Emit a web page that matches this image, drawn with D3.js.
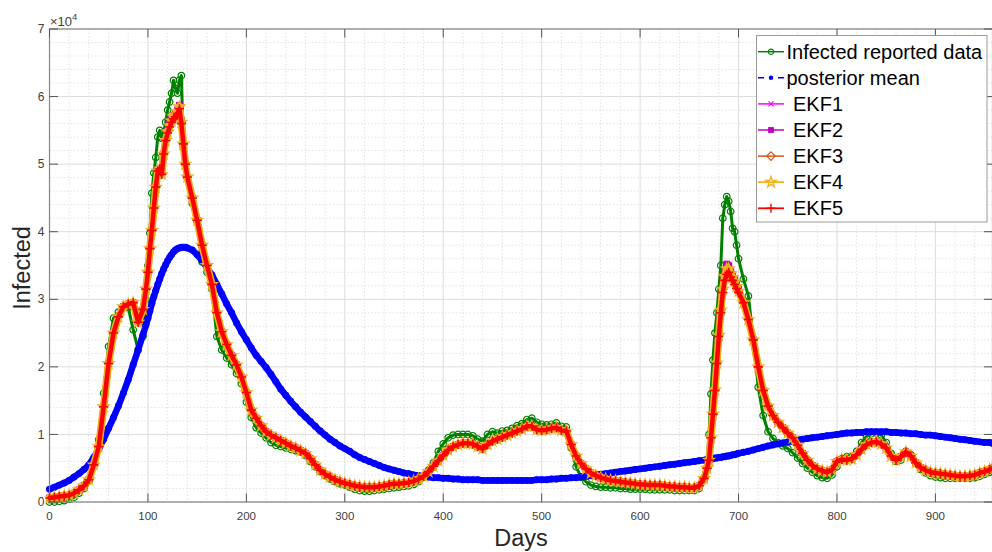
<!DOCTYPE html>
<html><head><meta charset="utf-8">
<script src="https://cdn.jsdelivr.net/npm/d3@7"></script>
<style>
body{margin:0;background:#fff;}
svg{display:block;font-family:"Liberation Sans",Arial,Helvetica,sans-serif;}
</style></head><body>
<svg id="chart" width="992" height="552"></svg>
<script>
// sample days (x values)
const days = [...d3.range(0,96,5), ...d3.range(98,141,2), ...d3.range(145,666,5), ...d3.range(668,701,2), ...d3.range(705,956,5), 958];

// values in units of 10^4
const infectedData = [
0.00,0.00,0.01,0.02,0.04,0.07,0.13,0.20,0.31,0.55,0.92,1.61,2.30,2.72,2.81,2.88,2.88,2.55,2.25,2.45,
3.00,3.50,3.98,4.57,4.87,5.10,5.40,5.50,5.38,5.47,5.62,5.80,5.92,6.05,6.24,6.12,6.05,6.24,6.31,5.25,5.00,4.80,
4.42,4.15,3.55,3.40,3.15,2.45,2.25,2.13,2.03,1.90,
1.75,1.48,1.25,1.10,1.02,0.95,0.88,0.84,0.82,0.80,
0.78,0.76,0.74,0.69,0.60,0.52,0.45,0.39,0.34,0.30,
0.27,0.25,0.22,0.19,0.17,0.16,0.16,0.17,0.18,0.19,
0.20,0.21,0.22,0.23,0.24,0.26,0.30,0.37,0.47,0.58,
0.75,0.86,0.95,0.99,1.00,1.00,1.00,0.98,0.93,0.90,
1.00,1.04,1.02,1.05,1.06,1.09,1.13,1.16,1.22,1.24,
1.18,1.15,1.14,1.15,1.17,1.12,1.11,0.80,0.52,0.37,
0.30,0.25,0.23,0.22,0.22,0.21,0.21,0.20,0.20,0.19,
0.19,0.19,0.19,0.18,0.18,0.18,0.18,0.18,0.17,0.17,
0.17,0.17,0.17,0.20,0.35,
0.60,1.00,1.60,2.10,2.50,2.80,3.15,3.50,4.20,4.40,4.52,4.45,4.30,4.05,4.00,3.80,3.60,
3.30,3.05,2.40,1.70,1.28,1.04,0.94,0.88,0.83,0.79,
0.73,0.65,0.57,0.50,0.44,0.39,0.36,0.35,0.40,0.52,
0.64,0.67,0.67,0.75,0.88,0.97,1.01,1.02,0.99,0.88,
0.72,0.60,0.62,0.75,0.70,0.58,0.48,0.43,0.39,0.37,
0.36,0.35,0.35,0.35,0.35,0.35,0.35,0.36,0.38,0.41,
0.44,0.46];

const posteriorMean = [
0.19,0.22,0.25,0.28,0.32,0.37,0.42,0.48,0.55,0.66,0.78,0.93,1.09,1.25,1.42,1.61,1.81,2.03,2.25,2.48,
2.62,2.72,2.83,2.94,3.04,3.13,3.22,3.30,3.38,3.45,3.51,3.57,3.62,3.66,3.70,3.73,3.75,3.76,3.77,3.77,3.77,3.76,
3.73,3.66,3.57,3.47,3.36,3.22,3.08,2.93,2.80,2.65,
2.52,2.40,2.28,2.17,2.08,1.99,1.89,1.78,1.67,1.58,
1.49,1.41,1.33,1.26,1.19,1.12,1.05,0.99,0.93,0.88,
0.83,0.79,0.75,0.70,0.66,0.63,0.60,0.57,0.54,0.51,
0.49,0.47,0.45,0.43,0.42,0.40,0.39,0.38,0.37,0.36,
0.36,0.35,0.35,0.34,0.34,0.33,0.33,0.33,0.33,0.32,
0.32,0.32,0.32,0.32,0.32,0.32,0.32,0.32,0.32,0.32,
0.33,0.33,0.33,0.34,0.34,0.35,0.35,0.36,0.36,0.37,
0.38,0.39,0.40,0.41,0.42,0.43,0.44,0.45,0.46,0.47,
0.48,0.49,0.50,0.51,0.52,0.53,0.54,0.55,0.56,0.57,
0.58,0.59,0.60,0.61,0.62,
0.63,0.63,0.64,0.64,0.65,0.65,0.66,0.66,0.67,0.67,0.68,0.68,0.69,0.70,0.70,0.71,0.72,
0.735,0.75,0.77,0.79,0.81,0.83,0.845,0.86,0.875,0.89,
0.90,0.92,0.93,0.94,0.95,0.96,0.97,0.98,0.99,1.00,
1.01,1.02,1.02,1.03,1.03,1.04,1.04,1.04,1.04,1.04,
1.03,1.03,1.02,1.02,1.01,1.01,1.00,0.99,0.99,0.98,
0.97,0.96,0.95,0.94,0.93,0.92,0.91,0.90,0.89,0.88,
0.88,0.87];

// EKF estimates (the five filters coincide except near the two peaks)
const ekfEarly = [0.06,0.07,0.08,0.09,0.10,0.13,0.18,0.24,0.33,0.55,0.82,1.41,2.05,2.50,2.74,2.89,2.93,2.95,2.66,2.85];
const ekf5Peak1 = [3.15,3.40,3.75,4.02,4.35,4.66,4.90,4.93,4.85,5.15,5.35,5.46,5.55,5.62,5.67,5.70,5.75,5.82,5.60,5.30,5.00,4.81];
const ekf12Peak1 = [3.15,3.40,3.75,4.02,4.35,4.66,4.90,4.93,4.85,5.15,5.35,5.50,5.60,5.67,5.72,5.76,5.80,5.87,5.65,5.30,5.00,4.81];
const ekf34Peak1 = [3.15,3.40,3.75,4.02,4.35,4.66,4.90,4.93,4.85,5.15,5.35,5.48,5.57,5.64,5.70,5.73,5.78,5.85,5.62,5.30,5.00,4.81];
const ekfMiddle = [
4.50,4.17,3.80,3.50,3.22,2.80,2.52,2.33,2.17,2.03,
1.85,1.62,1.36,1.24,1.13,1.04,0.99,0.95,0.91,0.87,
0.83,0.80,0.76,0.72,0.64,0.55,0.47,0.41,0.37,0.33,
0.30,0.28,0.26,0.24,0.23,0.22,0.22,0.22,0.23,0.24,
0.26,0.27,0.27,0.28,0.29,0.31,0.34,0.38,0.45,0.53,
0.61,0.69,0.77,0.82,0.85,0.87,0.87,0.86,0.82,0.79,
0.85,0.90,0.93,0.96,0.99,1.02,1.05,1.08,1.12,1.12,
1.07,1.06,1.07,1.09,1.10,1.06,1.05,0.85,0.68,0.57,
0.49,0.43,0.39,0.36,0.34,0.32,0.31,0.30,0.29,0.28,
0.27,0.26,0.26,0.25,0.25,0.25,0.24,0.23,0.23,0.22,
0.22,0.21,0.21,0.24,0.35];
const ekf5Peak2 = [0.50,0.62,0.95,1.30,1.65,2.05,2.45,2.80,3.10,3.28,3.37,3.40,3.33,3.28,3.22,3.16,3.10];
const ekf12Peak2 = [0.50,0.62,0.95,1.30,1.67,2.08,2.50,2.88,3.20,3.40,3.52,3.50,3.43,3.36,3.30,3.22,3.15];
const ekf34Peak2 = [0.50,0.62,0.95,1.30,1.66,2.06,2.47,2.84,3.15,3.34,3.45,3.45,3.38,3.32,3.26,3.19,3.12];
const ekfLate = [
2.95,2.70,2.40,2.00,1.65,1.42,1.28,1.18,1.10,1.02,
0.95,0.84,0.72,0.62,0.54,0.49,0.46,0.44,0.48,0.60,
0.63,0.62,0.64,0.70,0.78,0.85,0.88,0.89,0.86,0.80,
0.68,0.62,0.67,0.74,0.68,0.58,0.51,0.47,0.44,0.43,
0.42,0.41,0.40,0.39,0.38,0.38,0.39,0.40,0.43,0.45,
0.48,0.50];

const ekf1 = [...ekfEarly, ...ekf12Peak1, ...ekfMiddle, ...ekf12Peak2, ...ekfLate];
const ekf2 = [...ekfEarly, ...ekf12Peak1, ...ekfMiddle, ...ekf12Peak2, ...ekfLate];
const ekf3 = [...ekfEarly, ...ekf34Peak1, ...ekfMiddle, ...ekf34Peak2, ...ekfLate];
const ekf4 = [...ekfEarly, ...ekf34Peak1, ...ekfMiddle, ...ekf34Peak2, ...ekfLate];
const ekf5 = [...ekfEarly, ...ekf5Peak1, ...ekfMiddle, ...ekf5Peak2, ...ekfLate];

const xTicks = [0,100,200,300,400,500,600,700,800,900];
const yTicks = [0,1,2,3,4,5,6,7];
const yTickLabels = ["0","1","2","3","4","5","6","7"];
const legendLabels = ["Infected reported data","posterior mean","EKF1","EKF2","EKF3","EKF4","EKF5"];

// ---------- drawing ----------
const svg = d3.select("#chart");
const L = 49.5, R = 992.5, T = 29, B = 502;
const x = d3.scaleLinear().domain([0,958]).range([L,R]);
const y = d3.scaleLinear().domain([0,7]).range([B,T]);

svg.append("rect").attr("x",0).attr("y",0).attr("width",992).attr("height",552).attr("fill","#fff");

const grid = svg.append("g");
d3.range(20,958,20).filter(v=>v%100!==0).forEach(v=>{
  grid.append("line").attr("x1",x(v)).attr("x2",x(v)).attr("y1",T).attr("y2",B)
    .attr("stroke","#e2e2e2").attr("stroke-width",1).attr("stroke-dasharray","1.5,2");
});
d3.range(0.2,7,0.2).filter(v=>Math.abs(v-Math.round(v))>0.01).forEach(v=>{
  grid.append("line").attr("x1",L).attr("x2",R).attr("y1",y(v)).attr("y2",y(v))
    .attr("stroke","#e2e2e2").attr("stroke-width",1).attr("stroke-dasharray","1.5,2");
});
xTicks.forEach(v=>{
  grid.append("line").attr("x1",x(v)).attr("x2",x(v)).attr("y1",T).attr("y2",B)
    .attr("stroke","#dcdcdc").attr("stroke-width",1);
});
yTicks.forEach(v=>{
  grid.append("line").attr("x1",L).attr("x2",R).attr("y1",y(v)).attr("y2",y(v))
    .attr("stroke","#dcdcdc").attr("stroke-width",1);
});

svg.append("clipPath").attr("id","clip").append("rect")
  .attr("x",L-4).attr("y",T).attr("width",R-L+8).attr("height",B-T+4);
const plot = svg.append("g").attr("clip-path","url(#clip)");

const lineGen = d3.line().x(d=>d[0]).y(d=>d[1]);
function pts(vals){ return days.map((d,i)=>[x(d), y(vals[i])]); }

const M = {
  circle: {d: d3.symbol().type(d3.symbolCircle).size(34)(), fill:"none"},
  dot: {d: d3.symbol().type(d3.symbolCircle).size(38)(), fill:"blue"},
  xmark: {d:"M-2.5,-2.5L2.5,2.5M-2.5,2.5L2.5,-2.5", fill:"none"},
  square: {d:"M-3,-3H3V3H-3Z", fill:"#bf00bf"},
  diamond: {d:"M0,-4.2L4.2,0L0,4.2L-4.2,0Z", fill:"none"},
  star: {d: d3.symbol().type(d3.symbolStar).size(36)(), fill:"none"},
  plus: {d:"M-4.5,0H4.5M0,-4.5V4.5", fill:"none"}
};

function drawSeries(vals, color, lw, marker, mlw){
  const p = pts(vals);
  const g = plot.append("g");
  g.append("path").attr("d", lineGen(p)).attr("fill","none")
    .attr("stroke",color).attr("stroke-width",lw)
    .attr("stroke-linejoin","round").attr("stroke-linecap","round");
  const m = M[marker];
  g.selectAll("path.m").data(p).enter().append("path").attr("class","m")
    .attr("d", m.d).attr("transform", d=>`translate(${d[0]},${d[1]})`)
    .attr("fill", m.fill==="none" ? "none" : m.fill)
    .attr("stroke", color).attr("stroke-width", mlw);
}

drawSeries(infectedData, "#008000", 3, "circle", 1.2);
drawSeries(posteriorMean, "#0000ff", 6.5, "dot", 0);
drawSeries(ekf1, "#ff00ff", 6, "xmark", 1.2);
drawSeries(ekf2, "#bf00bf", 6, "square", 1);
drawSeries(ekf3, "#d95319", 6.5, "diamond", 1.2);
drawSeries(ekf4, "#edb120", 7.5, "star", 1.3);
drawSeries(ekf5, "#ff0000", 4.5, "plus", 1.6);

// axes box and ticks
const ax = svg.append("g");
ax.append("rect").attr("x",L).attr("y",T).attr("width",R-L).attr("height",B-T)
  .attr("fill","none").attr("stroke","#858585").attr("stroke-width",1.2);
xTicks.forEach((v,i)=>{
  ax.append("line").attr("x1",x(v)).attr("x2",x(v)).attr("y1",B).attr("y2",B-8.5).attr("stroke","#555").attr("stroke-width",1);
  ax.append("line").attr("x1",x(v)).attr("x2",x(v)).attr("y1",T).attr("y2",T+8.5).attr("stroke","#555").attr("stroke-width",1);
  ax.append("text").attr("x",x(v)).attr("y",B+17.5).attr("text-anchor","middle")
    .attr("font-size",11.5).attr("fill","#404040").text(String(v));
});
yTicks.forEach((v,i)=>{
  ax.append("line").attr("x1",L).attr("x2",L+8.5).attr("y1",y(v)).attr("y2",y(v)).attr("stroke","#555").attr("stroke-width",1);
  ax.append("line").attr("x1",R).attr("x2",R-8.5).attr("y1",y(v)).attr("y2",y(v)).attr("stroke","#555").attr("stroke-width",1);
  ax.append("text").attr("x",L-5).attr("y",y(v)+4.2).attr("text-anchor","end")
    .attr("font-size",12).attr("fill","#404040").text(yTickLabels[i]);
});
const ex = ax.append("text").attr("x",50).attr("y",25.5).attr("font-size",13).attr("fill","#404040");
ex.append("tspan").text("\u00d710");
ex.append("tspan").attr("font-size",9.5).attr("dy",-6).text("4");

svg.append("text").attr("x",521).attr("y",546).attr("text-anchor","middle")
  .attr("font-size",23.5).attr("fill","#262626").text("Days");
svg.append("text").attr("transform","translate(30,268) rotate(-90)").attr("text-anchor","middle")
  .attr("font-size",23.5).attr("fill","#262626").text("Infected");

// legend
const lg = svg.append("g");
lg.append("rect").attr("x",756.5).attr("y",35.5).attr("width",230.5).attr("height",186.5)
  .attr("fill","#fff").attr("stroke","#9a9a9a").attr("stroke-width",1);
const legendStyles = [
  {c:"#008000", m:"circle", mlw:1.2, lw:1.5},
  {c:"#0000ff", m:"dot", mlw:0, lw:1.5, dash:"6,14"},
  {c:"#ff00ff", m:"xmark", mlw:1.2, lw:1.5},
  {c:"#bf00bf", m:"square", mlw:1, lw:1.5},
  {c:"#d95319", m:"diamond", mlw:1.2, lw:1.5},
  {c:"#edb120", m:"star", mlw:1.3, lw:1.8},
  {c:"#ff0000", m:"plus", mlw:1.4, lw:1.8}
];
legendLabels.forEach((lab,i)=>{
  const yy = 51.7 + i*26.1;
  const st = legendStyles[i];
  const ln = lg.append("line").attr("x1",758).attr("x2",784).attr("y1",yy).attr("y2",yy)
    .attr("stroke",st.c).attr("stroke-width",st.lw);
  if (st.dash) ln.attr("stroke-dasharray",st.dash);
  const m = M[st.m];
  const mk = lg.append("path").attr("d", st.m==="dot" ? d3.symbol().type(d3.symbolCircle).size(16)() : (st.m==="circle" ? d3.symbol().type(d3.symbolCircle).size(22)() : m.d))
    .attr("transform",`translate(771,${yy})`)
    .attr("fill", m.fill==="none" ? "none" : m.fill)
    .attr("stroke", st.c).attr("stroke-width", st.mlw);
  if (st.m==="square") mk.attr("transform",`translate(771,${yy}) scale(0.85)`);
  lg.append("text").attr("x", i<2 ? 786.5 : 793).attr("y", yy+7)
    .attr("font-size",20).attr("fill","#000").text(lab);
});
</script>
</body></html>
